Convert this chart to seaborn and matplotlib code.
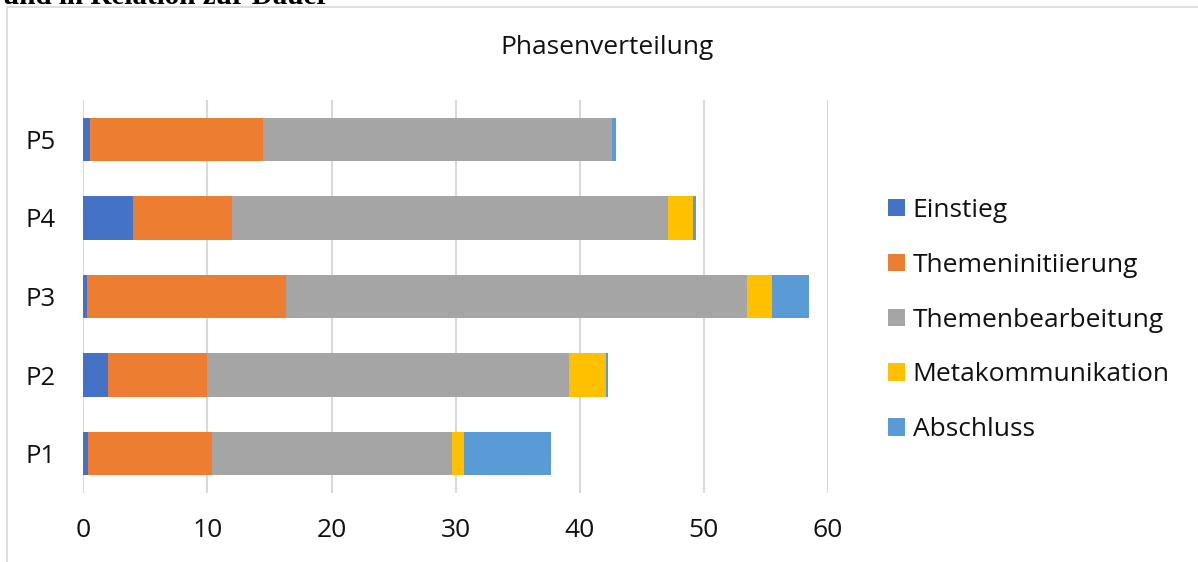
import matplotlib
matplotlib.use("Agg")
import matplotlib.pyplot as plt
from matplotlib.patches import Rectangle, Patch
import numpy as np
import pandas as pd
import seaborn as sns

# Participants (top to bottom) and phase durations per participant
participants = ["P5", "P4", "P3", "P2", "P1"]
phases = ["Einstieg", "Themeninitiierung", "Themenbearbeitung",
          "Metakommunikation", "Abschluss"]
einstieg = [0.5, 4.0, 0.3, 2.0, 0.4]
themeninitiierung = [14.0, 8.0, 16.0, 8.0, 10.0]
themenbearbeitung = [28.1, 35.1, 37.2, 29.1, 19.3]
metakommunikation = [0.0, 2.0, 2.0, 3.0, 1.0]
abschluss = [0.3, 0.3, 3.0, 0.2, 7.0]
x_ticks = [0, 10, 20, 30, 40, 50, 60]

colors = ["#4472C4", "#ED7D31", "#A5A5A5", "#FFC000", "#5B9BD5"]

sns.set_theme(style="white")
plt.rcParams["font.family"] = ["Open Sans", "DejaVu Sans"]

series = [einstieg, themeninitiierung, themenbearbeitung,
          metakommunikation, abschluss]
cum = np.cumsum(np.array(series), axis=0)

fig = plt.figure(figsize=(11.98, 5.62), dpi=100)
W, H = 1198, 562
ax = fig.add_axes([83.3 / W, 1 - 493 / H, (828 - 83.3) / W, (493 - 100) / H])

# Stacked bars: draw cumulative totals from the outermost phase inward
for i in range(len(phases) - 1, -1, -1):
    df = pd.DataFrame({"Teilnehmer": participants, "Dauer": cum[i]})
    sns.barplot(data=df, x="Dauer", y="Teilnehmer", order=participants,
                color=colors[i], saturation=1, width=0.55, ax=ax,
                orient="h", linewidth=0)

ax.set_xlim(0, 60)
ax.set_ylim(4.5, -0.5)
ax.set_xticks(x_ticks)
ax.set_xticklabels([str(t) for t in x_ticks], fontsize=19)
ax.tick_params(axis="x", length=0, pad=18, colors="#111111")
ax.tick_params(axis="y", length=0, pad=20, labelsize=18.5, colors="#111111")
ax.set_xlabel("")
ax.set_ylabel("")
ax.xaxis.grid(True, color="#d9d9d9", linewidth=1.5)
ax.set_axisbelow(True)
for s in ax.spines.values():
    s.set_visible(False)

fig.text(607 / W, 1 - 47 / H, "Phasenverteilung", ha="center", va="center",
         fontsize=19, color="#111111")

handles = [Patch(facecolor=c, edgecolor="none") for c in colors]
fig.legend(handles, phases, loc="upper left",
           bbox_to_anchor=(888 / W, 1 - 198 / H), frameon=False,
           fontsize=19, handlelength=0.64, handleheight=0.64,
           handletextpad=0.3, labelspacing=1.13, borderaxespad=0,
           borderpad=0, labelcolor="#111111")

# Chart frame
fig.add_artist(Rectangle((7 / W, -0.1), 1.2, 1 - 7 / H + 0.1,
                         transform=fig.transFigure, fill=False,
                         edgecolor="#d9d9d9", linewidth=1.2))

# Caption line of the surrounding document
fig.text(3 / W, 1 - 3.5 / H, "und in Relation zur Dauer", ha="left",
         va="baseline", fontsize=21, fontweight="bold",
         family=["Liberation Serif", "DejaVu Serif"], color="#000000")

fig.savefig("out.png", dpi=100)
